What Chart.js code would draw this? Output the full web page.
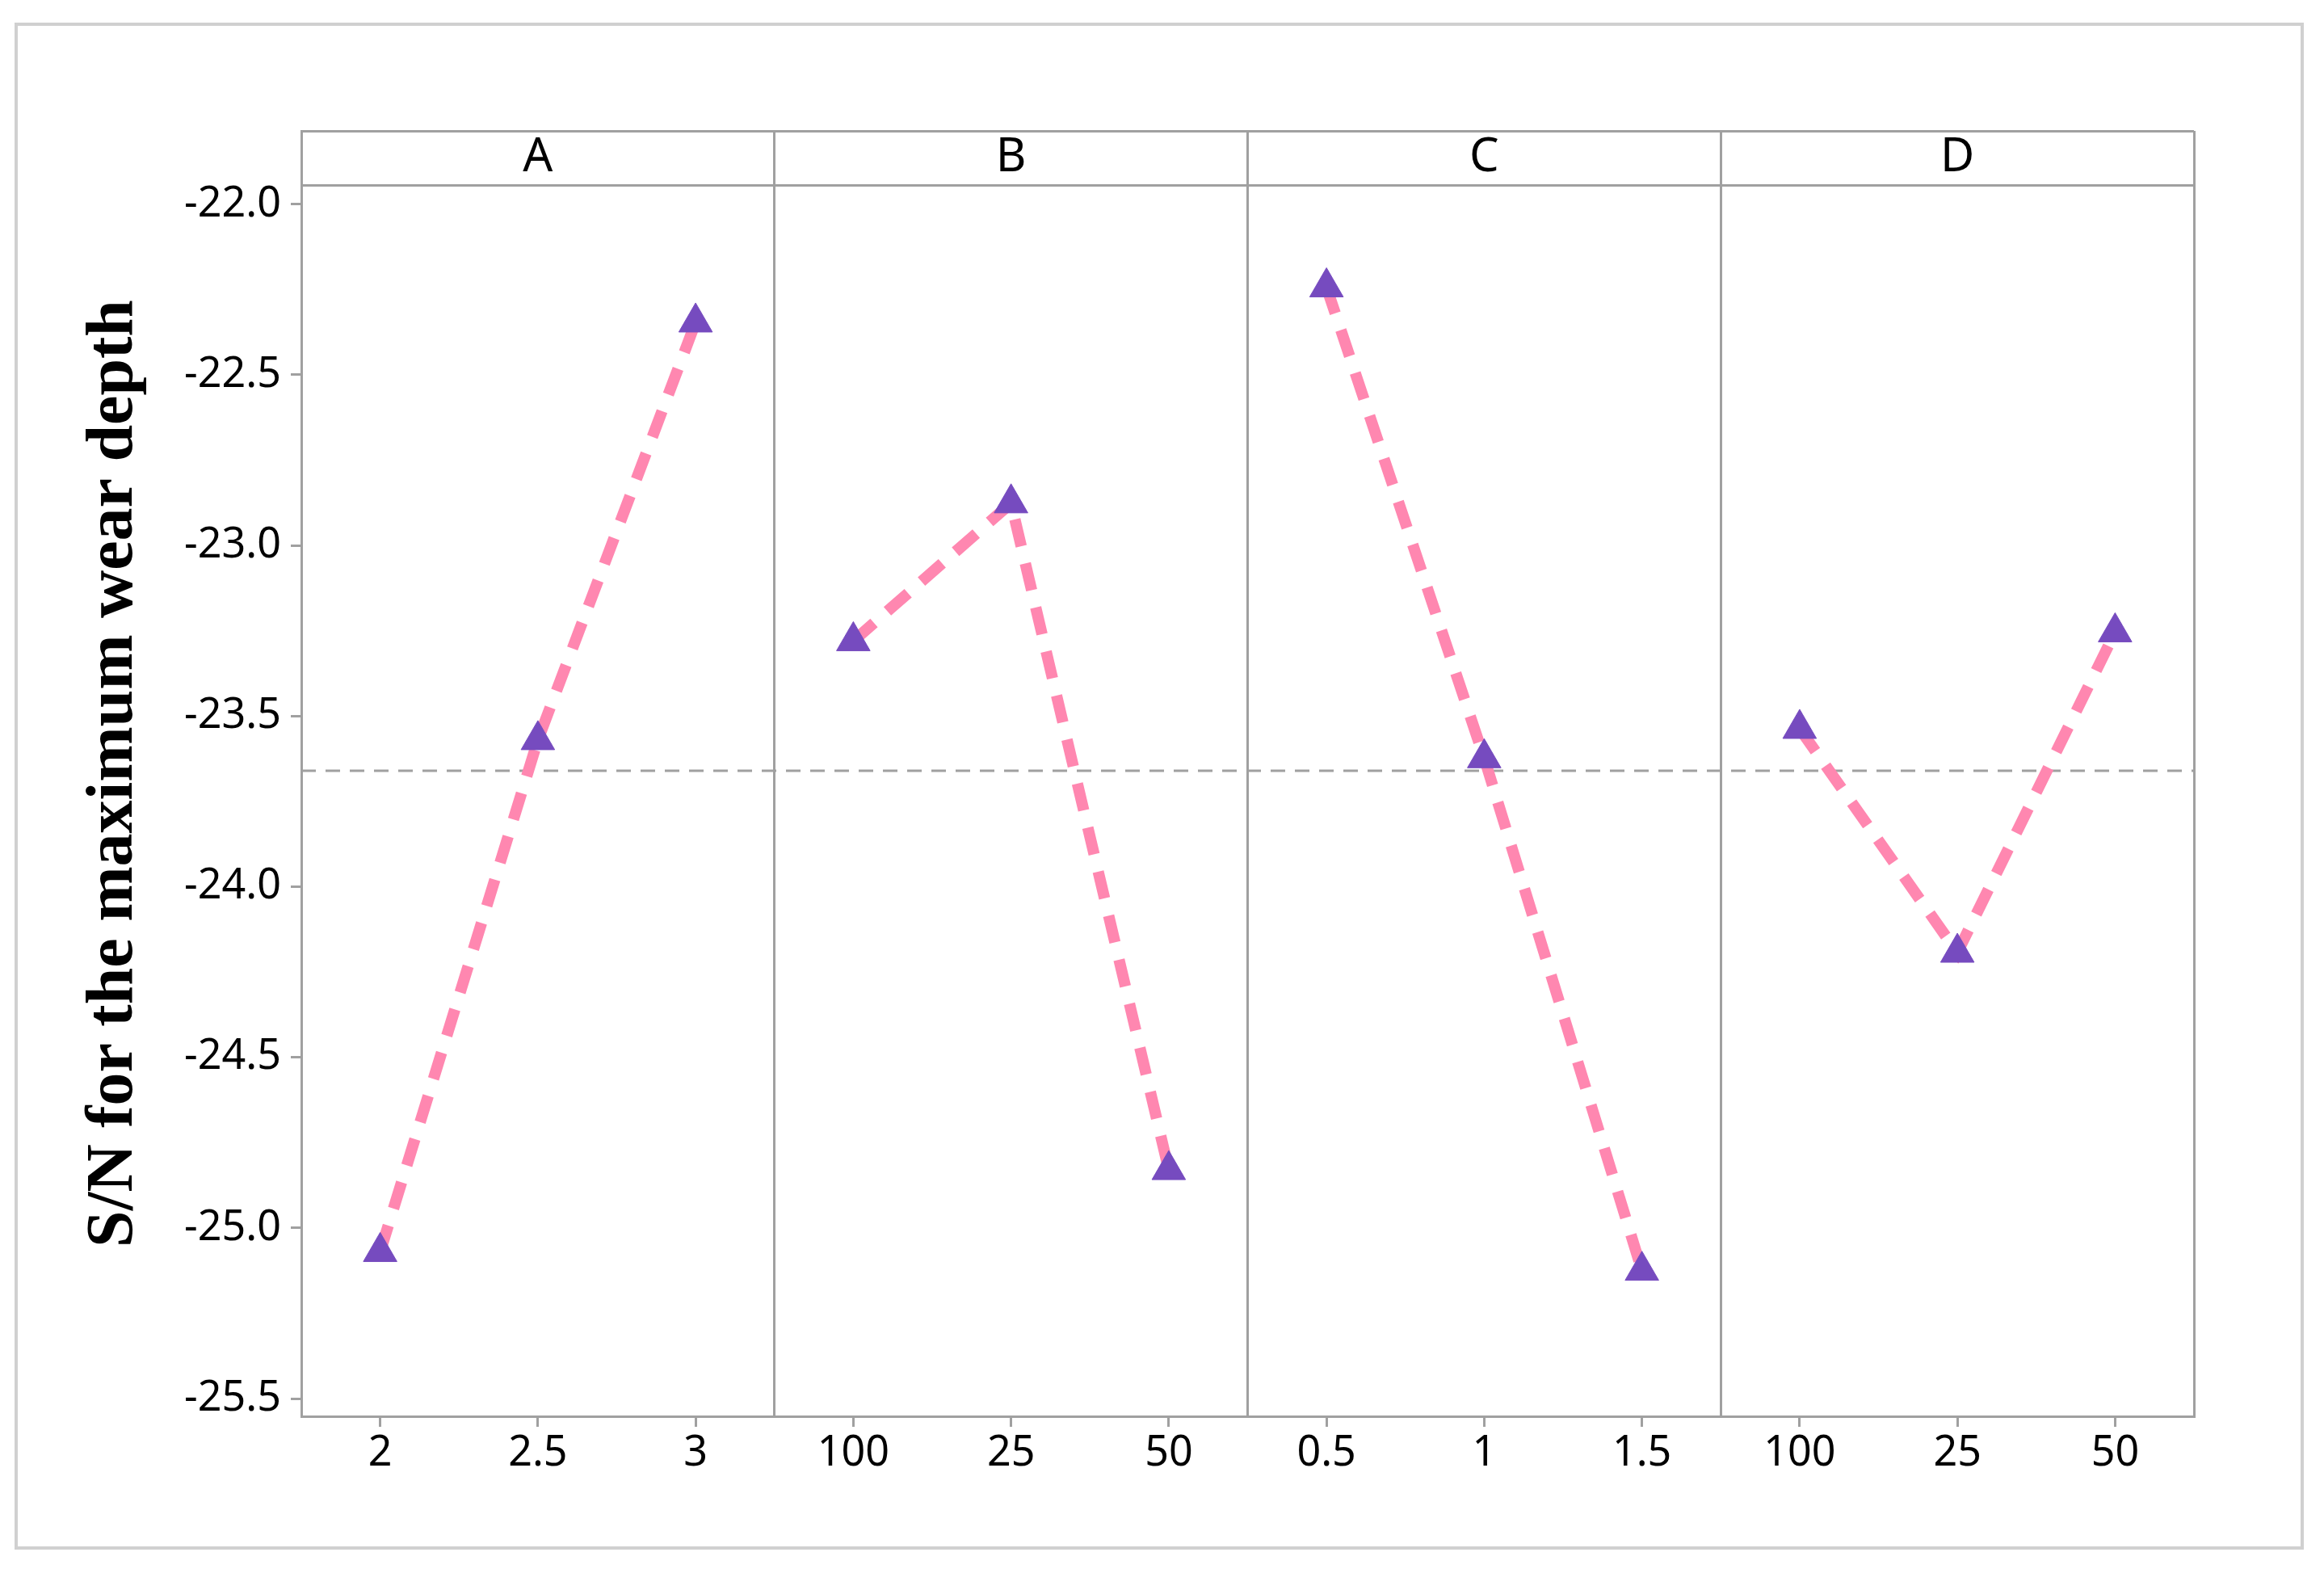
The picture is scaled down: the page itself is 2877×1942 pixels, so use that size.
<!DOCTYPE html>
<html>
<head>
<meta charset="utf-8">
<script src="https://cdn.jsdelivr.net/npm/chart.js@4.4.0/dist/chart.umd.min.js"></script>
<style>
  html, body { margin: 0; padding: 0; background: #fff; }
  #wrap { position: relative; width: 2877px; height: 1942px; }
  #frame {
    position: absolute; left: 18px; top: 28px; width: 2834px; height: 1890px;
    border: 4px solid #d0d0d0; box-sizing: border-box; pointer-events: none;
  }
  canvas { position: absolute; left: 0; top: 0; }
</style>
</head>
<body>
<div id="wrap">
  <canvas id="chart" width="2877" height="1942"></canvas>
  <div id="frame"></div>
</div>
<script>
// factors and their levels (in the order Minitab plots them)
var factors = ['A', 'B', 'C', 'D'];
var levelsA = ['2', '2.5', '3'];
var levelsB = ['100', '25', '50'];
var levelsC = ['0.5', '1', '1.5'];
var levelsD = ['100', '25', '50'];

// mean S/N ratio per level
var snA = [-25.07, -23.57, -22.346];
var snB = [-23.28, -22.876, -24.83];
var snC = [-22.243, -23.623, -25.125];
var snD = [-23.537, -24.193, -23.254];

// overall mean (dashed reference line)
var grandMean = -23.66;

var yTickValues = [-22.0, -22.5, -23.0, -23.5, -24.0, -24.5, -25.0, -25.5];
var yMin = -25.552;
var yHeaderLine = -21.944;   // bottom edge of the A/B/C/D strip
var yMax = -21.785;          // top edge of the strip

var GRAY = '#a0a0a0';
var PINK = '#ff87b0';
var PURPLE = '#764bbf';

var levels = [levelsA, levelsB, levelsC, levelsD];
var values = [snA, snB, snC, snD];

// x axis: each factor gets a panel 3 units wide, levels sit at .5, 1.5, 2.5
var xTicks = [];
var xLabels = {};
for (var p = 0; p < factors.length; p++) {
  xTicks.push(p * 3);
  for (var i = 0; i < 3; i++) {
    xTicks.push(p * 3 + i + 0.5);
    xLabels[p * 3 + i + 0.5] = levels[p][i];
  }
}
xTicks.push(factors.length * 3);

function isLevelTick(v) {
  return xLabels[v] !== undefined;
}

var datasets = [];
for (var p = 0; p < factors.length; p++) {
  datasets.push({
    label: factors[p],
    data: values[p].map(function (v, i) {
      return { x: p * 3 + i + 0.5, y: v };
    }),
    borderColor: PINK,
    borderWidth: 14,
    borderDash: [34, 22],
    borderCapStyle: 'butt',
    pointStyle: 'triangle',
    pointRadius: 24,
    pointBackgroundColor: PURPLE,
    pointBorderColor: PURPLE,
    pointBorderWidth: 1,
    tension: 0,
    order: 1
  });
}
datasets.push({
  label: 'mean',
  data: [{ x: 0, y: grandMean }, { x: factors.length * 3, y: grandMean }],
  borderColor: GRAY,
  borderWidth: 3,
  borderDash: [18, 12],
  pointRadius: 0,
  order: 2
});

// panel headers A, B, C, D inside the top strip
var headerPlugin = {
  id: 'panelHeaders',
  afterDraw: function (chart) {
    var ctx = chart.ctx;
    var xs = chart.scales.x;
    var ys = chart.scales.y;
    var yMid = ys.getPixelForValue((yHeaderLine + yMax) / 2);
    ctx.save();
    ctx.fillStyle = '#000';
    ctx.font = '58px "Noto Sans"';
    ctx.textAlign = 'center';
    ctx.textBaseline = 'middle';
    for (var p = 0; p < factors.length; p++) {
      ctx.fillText(factors[p], xs.getPixelForValue(p * 3 + 1.5), yMid);
    }
    ctx.restore();
  }
};

new Chart(document.getElementById('chart'), {
  type: 'line',
  data: { datasets: datasets },
  plugins: [headerPlugin],
  options: {
    responsive: false,
    animation: false,
    devicePixelRatio: 1,
    layout: { padding: { left: 0, top: 162, right: 161, bottom: 0 } },
    plugins: {
      legend: { display: false },
      tooltip: { enabled: false }
    },
    scales: {
      x: {
        type: 'linear',
        min: 0,
        max: factors.length * 3,
        afterFit: function (scale) { scale.height = 189; },
        afterBuildTicks: function (scale) {
          scale.ticks = xTicks.map(function (v) { return { value: v }; });
        },
        border: { display: true, color: GRAY, width: 3 },
        grid: {
          lineWidth: 3,
          tickLength: 13,
          color: function (ctx) {
            var v = ctx.tick ? ctx.tick.value : null;
            return (v !== null && v > 0 && !isLevelTick(v)) ? GRAY : 'rgba(0,0,0,0)';
          },
          tickColor: function (ctx) {
            return (ctx.tick && isLevelTick(ctx.tick.value)) ? GRAY : 'rgba(0,0,0,0)';
          }
        },
        ticks: {
          autoSkip: false,
          maxRotation: 0,
          padding: 2,
          color: '#000',
          font: { family: 'Noto Sans', size: 52 },
          callback: function (v) { return xLabels[v] || ''; }
        }
      },
      y: {
        min: yMin,
        max: yMax,
        afterFit: function (scale) { scale.width = 373; },
        afterBuildTicks: function (scale) {
          var t = yTickValues.slice();
          t.push(yHeaderLine, yMax);
          scale.ticks = t.map(function (v) { return { value: v }; });
        },
        border: { display: true, color: GRAY, width: 3 },
        grid: {
          lineWidth: 3,
          tickLength: 13,
          color: function (ctx) {
            return (ctx.tick && ctx.tick.value > -21.99) ? GRAY : 'rgba(0,0,0,0)';
          },
          tickColor: function (ctx) {
            return (ctx.tick && ctx.tick.value > -21.99) ? 'rgba(0,0,0,0)' : GRAY;
          }
        },
        ticks: {
          autoSkip: false,
          padding: 12,
          color: '#000',
          font: { family: 'Noto Sans', size: 52 },
          callback: function (v) {
            return v > -21.99 ? '' : v.toFixed(1);
          }
        },
        title: {
          display: true,
          text: 'S/N for the maximum wear depth',
          color: '#000',
          font: { family: 'Liberation Serif', size: 82, weight: 'bold' },
          padding: { top: 93, bottom: 0 }
        }
      }
    }
  }
});
</script>
</body>
</html>
